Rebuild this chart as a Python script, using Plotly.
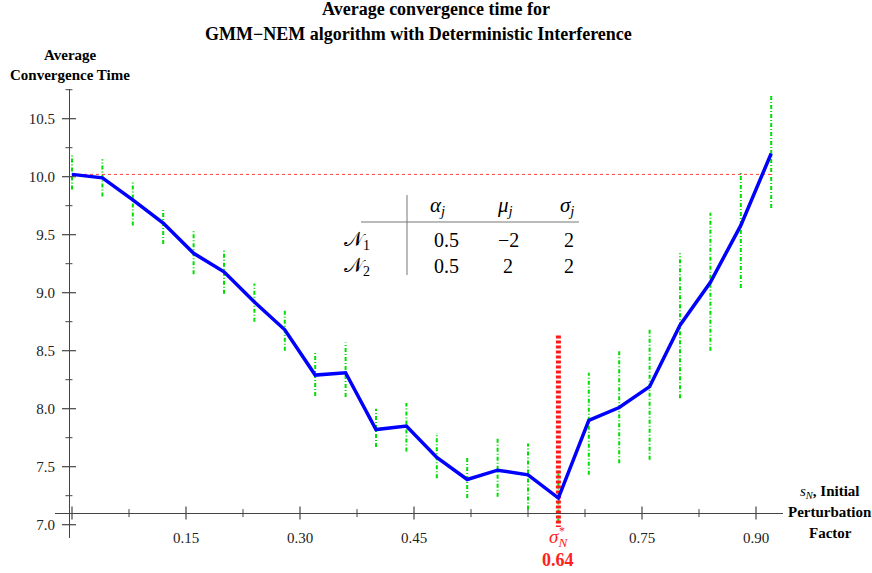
import plotly.graph_objects as go

# ---------------- data ----------------
s_N = [0.00, 0.04, 0.08, 0.12, 0.16, 0.20, 0.24, 0.28, 0.32, 0.36, 0.40, 0.44,
       0.48, 0.52, 0.56, 0.60, 0.64, 0.68, 0.72, 0.76, 0.80, 0.84, 0.88, 0.92]
avg_time = [10.02, 9.99, 9.80, 9.60, 9.34, 9.18, 8.92, 8.68, 8.29, 8.31, 7.82, 7.85,
            7.58, 7.39, 7.47, 7.43, 7.23, 7.90, 8.01, 8.19, 8.72, 9.09, 9.58, 10.20]
bar_hi = [10.20, 10.15, 9.95, 9.72, 9.53, 9.37, 9.08, 8.85, 8.48, 8.57, 8.00, 8.05,
          7.79, 7.58, 7.75, 7.70, 7.47, 8.31, 8.51, 8.69, 9.34, 9.69, 10.04, 10.71]
bar_lo = [9.89, 9.83, 9.58, 9.42, 9.16, 8.99, 8.75, 8.50, 8.11, 8.10, 7.67, 7.63,
          7.40, 7.23, 7.24, 7.13, 7.02, 7.43, 7.53, 7.56, 8.09, 8.50, 9.04, 9.73]
sigma_opt = 0.64
sigma_line = [8.63, 6.98]

x_tick_vals = [0.15, 0.30, 0.45, 0.75, 0.90]
x_tick_text = ["0.15", "0.30", "0.45", "0.75", "0.90"]
x_major = [0.0, 0.15, 0.30, 0.45, 0.75, 0.90]
x_minor = [0.075, 0.225, 0.375, 0.525, 0.60, 0.675, 0.825]
y_tick_vals = [7.0, 7.5, 8.0, 8.5, 9.0, 9.5, 10.0, 10.5]
y_tick_text = ["7.0", "7.5", "8.0", "8.5", "9.0", "9.5", "10.0", "10.5"]
y_minor = [7.25, 7.75, 8.25, 8.75, 9.25, 9.75, 10.25, 10.75]

table_cols = ["<i>α<sub>j</sub></i>", "<i>μ<sub>j</sub></i>", "<i>σ<sub>j</sub></i>"]
table_rows = ["𝒩<sub>1</sub>", "𝒩<sub>2</sub>"]
table_vals = [["0.5", "−2", "2"], ["0.5", "2", "2"]]

# ---------------- layout geometry ----------------
W, H = 872, 573
L, R, T, B = 55, 783, 89, 538          # plot area in pixels
x_range = [(L - 72) / 760, (R - 72) / 760]
y_range = [7.0 + (524.7 - B) / 116, 7.0 + (524.7 - T) / 116]


def px(X):
    return (X - L) / (R - L)


def py(Y):
    return (B - Y) / (B - T)


def yval_to_py(v):
    return (v - y_range[0]) / (y_range[1] - y_range[0])


def xval_to_px(v):
    return (v - x_range[0]) / (x_range[1] - x_range[0])


SERIF = "Liberation Serif"
x_axis_val = 7.1
y_axis_val = -0.004

fig = go.Figure()

# error bars (green dashed)
ex, ey = [], []
for xv, lo, hi in zip(s_N, bar_lo, bar_hi):
    ex += [xv, xv, None]
    ey += [lo, hi, None]
fig.add_trace(go.Scatter(x=ex, y=ey, mode="lines",
                         line=dict(color="#00e000", width=2, dash="4px,2px,1px,2px"),
                         hoverinfo="skip", showlegend=False))

# baseline dotted red
fig.add_trace(go.Scatter(x=[s_N[0], s_N[-1]], y=[avg_time[0], avg_time[0]], mode="lines",
                         line=dict(color="#ff4040", width=1, dash="3px,3px"),
                         showlegend=False))

# optimal sigma vertical red
fig.add_trace(go.Scatter(x=[sigma_opt, sigma_opt], y=sigma_line, mode="lines",
                         line=dict(color="#ff1a1a", width=5, dash="3px,2px"),
                         showlegend=False))

# main curve
fig.add_trace(go.Scatter(x=s_N, y=avg_time, mode="lines",
                         line=dict(color="#0000ff", width=3.5),
                         showlegend=False))

shapes = []
ax_col = "#444444"
xa_py = yval_to_py(x_axis_val)
for v in x_major:
    shapes.append(dict(type="line", xref="x", yref="paper", x0=v, x1=v,
                       y0=xa_py - 6.5 / (B - T), y1=xa_py + 6.5 / (B - T),
                       line=dict(color=ax_col, width=1.2)))
for v in x_minor:
    shapes.append(dict(type="line", xref="x", yref="paper", x0=v, x1=v,
                       y0=xa_py - 4 / (B - T), y1=xa_py + 4 / (B - T),
                       line=dict(color=ax_col, width=1)))
ya_px = xval_to_px(y_axis_val)
for v in y_tick_vals:
    shapes.append(dict(type="line", xref="paper", yref="y", y0=v, y1=v,
                       x0=ya_px - 7 / (R - L), x1=ya_px + 7 / (R - L),
                       line=dict(color=ax_col, width=1.2)))
for v in y_minor:
    shapes.append(dict(type="line", xref="paper", yref="y", y0=v, y1=v,
                       x0=ya_px - 3.5 / (R - L), x1=ya_px + 3.5 / (R - L),
                       line=dict(color=ax_col, width=1)))

# table lines
shapes.append(dict(type="line", xref="paper", yref="paper", x0=px(407), x1=px(407),
                   y0=py(195), y1=py(275), line=dict(color="#777777", width=1)))
shapes.append(dict(type="line", xref="paper", yref="paper", x0=px(361), x1=px(579),
                   y0=py(222), y1=py(222), line=dict(color="#777777", width=1)))

annotations = []


def label(text, X, Y, size, color="black", xref="paper", xv=None):
    annotations.append(dict(text=text, xref=xref, yref="paper",
                            x=(px(X) if xv is None else xv), y=py(Y),
                            xanchor="center", yanchor="middle", showarrow=False,
                            font=dict(family=SERIF, size=size, color=color)))


# titles
label("<b>Average convergence time for</b>", 436, 9, 18)
label("<b>GMM−NEM algorithm with Deterministic Interference</b>", 418, 34, 18)
# axis labels
label("<b>Average</b>", 70, 55, 15)
label("<b>Convergence Time</b>", 70, 75, 15)
label("<i>s<sub>N</sub></i><b>, Initial</b>", 830, 492, 15)
label("<b>Perturbation</b>", 830, 512, 15)
label("<b>Factor</b>", 830, 533, 15)
# sigma annotation
label("<i>σ<sub>N</sub></i>", 0, 538, 19, color="#ff2020", xref="x", xv=sigma_opt)
label("*", 0, 531, 12, color="#ff2020", xref="x", xv=sigma_opt + 0.005)
label("<b>0.64</b>", 0, 560, 18, color="#ff2020", xref="x", xv=sigma_opt)
# table
col_x = [437, 505, 567]
val_x = [446, 508, 569]
for cx, ct in zip(col_x, table_cols):
    label(ct, cx, 206, 21)
for ry, rl, rv in zip([240, 266], table_rows, table_vals):
    label(rl, 357, ry, 20)
    for vx, vv in zip(val_x, rv):
        label(vv, vx, ry, 20)

fig.update_layout(
    width=W, height=H,
    margin=dict(l=L, r=W - R, t=T, b=H - B, pad=0),
    paper_bgcolor="white", plot_bgcolor="white",
    showlegend=False,
    xaxis=dict(range=x_range, anchor="free", position=yval_to_py(x_axis_val),
               showline=True, linecolor=ax_col, linewidth=1, showgrid=False, zeroline=False,
               tickvals=x_tick_vals, ticktext=x_tick_text, ticks="", ticklabelstandoff=11,
               tickfont=dict(family=SERIF, size=15, color="#222222")),
    yaxis=dict(range=y_range, anchor="free", position=xval_to_px(y_axis_val),
               showline=True, linecolor=ax_col, linewidth=1, showgrid=False, zeroline=False,
               tickvals=y_tick_vals, ticktext=y_tick_text, ticks="", ticklabelstandoff=11,
               tickfont=dict(family=SERIF, size=15, color="#222222")),
    shapes=shapes, annotations=annotations,
)

fig.write_html("out.html")
